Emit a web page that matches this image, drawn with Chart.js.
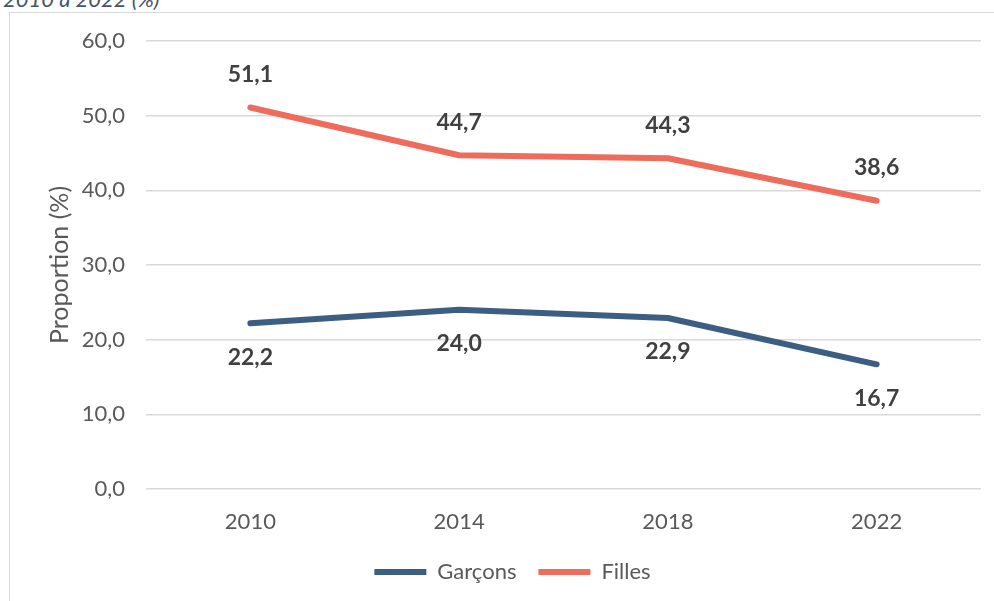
<!DOCTYPE html>
<html lang="fr">
<head>
<meta charset="utf-8">
<script src="https://cdn.jsdelivr.net/npm/chart.js@4.4.0/dist/chart.umd.min.js"></script>
<style>
  html, body { margin: 0; padding: 0; background: #fff; overflow: hidden; }
  #wrap { position: relative; width: 994px; height: 601px; }
  #title {
    position: absolute; left: 3px; top: -15px;
    font: italic 22px Lato, sans-serif; color: #44546A; white-space: nowrap;
  }
  #frame {
    position: absolute; left: 9px; top: 12px; right: -2px; bottom: -2px;
    border: 1.5px solid #D9D9D9;
  }
  canvas { position: absolute; left: 0; top: 0; }
</style>
</head>
<body>
<div id="wrap">
  <div id="title">2010 à 2022 (%)</div>
  <div id="frame"></div>
  <canvas id="chart" width="994" height="601"></canvas>
</div>
<script>
const years = ["2010", "2014", "2018", "2022"]
const garcons = [22.2, 24.0, 22.9, 16.7]
const filles = [51.1, 44.7, 44.3, 38.6]
const yTicks = { min: 0, max: 60, step: 10 }

const fmt = (v) => v.toFixed(1).replace(".", ",")

// étiquettes de données : Garçons sous la ligne, Filles au-dessus
const valueLabels = {
  id: "valueLabels",
  afterDatasetsDraw(chart) {
    const ctx = chart.ctx
    ctx.save()
    ctx.font = "bold 23px Lato, sans-serif"
    ctx.fillStyle = "#404040"
    ctx.textAlign = "center"
    ctx.textBaseline = "middle"
    chart.data.datasets.forEach((ds, i) => {
      const meta = chart.getDatasetMeta(i)
      meta.data.forEach((pt, j) => {
        const dy = ds.labelPos === "above" ? -33 : 34
        ctx.fillText(fmt(ds.data[j]), pt.x, pt.y + dy)
      })
    })
    ctx.restore()
  }
}

new Chart(document.getElementById("chart"), {
  type: "line",
  data: {
    labels: years,
    datasets: [
      {
        label: "Garçons",
        data: garcons,
        borderColor: "#3B5E82",
        backgroundColor: "#3B5E82",
        borderWidth: 6,
        borderCapStyle: "round",
        borderJoinStyle: "round",
        pointRadius: 0,
        tension: 0,
        labelPos: "below"
      },
      {
        label: "Filles",
        data: filles,
        borderColor: "#EE6C5B",
        backgroundColor: "#EE6C5B",
        borderWidth: 6,
        borderCapStyle: "round",
        borderJoinStyle: "round",
        pointRadius: 0,
        tension: 0,
        labelPos: "above"
      }
    ]
  },
  options: {
    responsive: false,
    animation: false,
    layout: { padding: { top: 41, right: 13, left: 44, bottom: 8 } },
    plugins: {
      tooltip: { enabled: false },
      legend: {
        position: "bottom",
        labels: {
          usePointStyle: true,
          pointStyle: "line",
          pointStyleWidth: 52,
          boxHeight: 6,
          padding: 22,
          color: "#595959",
          font: { family: "Lato", size: 22 }
        }
      }
    },
    scales: {
      x: {
        offset: true,
        grid: { display: false },
        border: { display: false },
        ticks: { color: "#595959", font: { family: "Lato", size: 22 }, padding: 12 },
        afterFit: (s) => { s.height = 50 }
      },
      y: {
        min: yTicks.min,
        max: yTicks.max,
        grid: { color: "#D9D9D9", lineWidth: 1.5, drawTicks: false },
        border: { display: false },
        ticks: {
          stepSize: yTicks.step,
          color: "#595959",
          font: { family: "Lato", size: 22 },
          padding: 21,
          callback: (v) => fmt(v)
        },
        title: {
          display: true,
          text: "Proportion (%)",
          color: "#595959",
          font: { family: "Lato", size: 25 },
          padding: { top: 1, bottom: 0 }
        },
        afterFit: (s) => { s.width = 102 }
      }
    }
  },
  plugins: [valueLabels]
})
</script>
</body>
</html>
